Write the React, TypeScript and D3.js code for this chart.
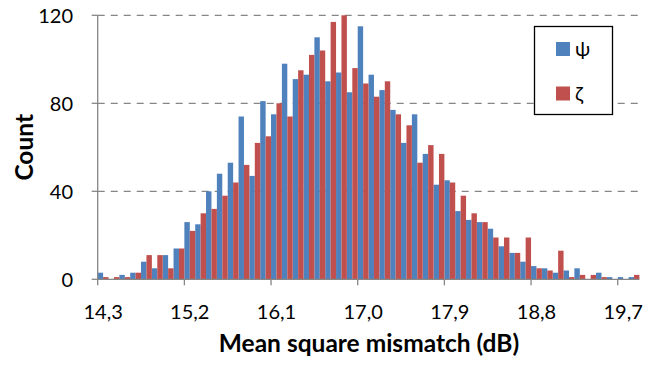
import React from "react";
import * as d3 from "d3";

const psiCounts = [3,0,2,3,8,5,11,14,26,25,40,48,53,74,47,81,75,98,91,93,110,90,94,85,115,93,86,77,62,75,57,43,45,31,27,26,23,15,12,8,6,5,3,4,5,0,3,1,1,1];
const zetaCounts = [1,1,1,3,11,11,5,14,22,30,32,38,44,52,62,65,80,74,95,102,104,117,120,96,89,83,90,75,70,53,61,57,44,38,30,26,19,19,12,19,5,4,13,1,2,2,1,0,0,2];
const categories = psiCounts.map((_, i) => i);
const tickLabels = ["14,3", "15,2", "16,1", "17,0", "17,9", "18,8", "19,7"];
const tickEvery = 8;
const yTicks = [0, 40, 80, 120];
const seriesNames = ["ψ", "ζ"];
const colors = ["#4F81BD", "#C0504D"];

const W = 662, H = 369;
const left = 97.7, right = 639.4, top = 15.3, bottom = 279.3;
const FONT = "Lato, sans-serif";

export default function App() {
  const x = d3.scaleBand<number>().domain(categories).range([left, right]).padding(0);
  const inner = d3.scaleBand<number>().domain([0, 1]).range([0, x.bandwidth()]).padding(0);
  const y = d3.scaleLinear().domain([0, 120]).range([bottom, top]);
  const series = [psiCounts, zetaCounts];
  const axisColor = "#868686";

  return (
    <svg width={W} height={H} style={{ position: "absolute", left: 0, top: 0, background: "#fff" }} fontFamily={FONT}>
      {yTicks.filter(t => t > 0).map(t => (
        <line key={"g" + t} x1={left} x2={right} y1={y(t)} y2={y(t)} stroke={axisColor} strokeWidth={1.3} strokeDasharray="7,6" />
      ))}
      {series.map((vals, s) =>
        vals.map((v, i) => (
          v > 0 ? <rect key={s + "-" + i} x={(x(i) as number) + (inner(s) as number)} y={y(v)} width={inner.bandwidth()} height={bottom - y(v)} fill={colors[s]} /> : null
        ))
      )}
      <line x1={left} x2={left} y1={top} y2={bottom} stroke={axisColor} strokeWidth={1.3} />
      {yTicks.map(t => (
        <g key={"yt" + t}>
          <line x1={left - 6} x2={left} y1={y(t)} y2={y(t)} stroke={axisColor} strokeWidth={1.3} />
          <text x={73} y={y(t)} dy="0.36em" textAnchor="end" fontSize={20} fill="#000">{t}</text>
        </g>
      ))}
      <line x1={left} x2={right} y1={bottom} y2={bottom} stroke={axisColor} strokeWidth={1.3} />
      {tickLabels.map((lab, k) => {
        const idx = k * tickEvery;
        const xs = x(idx) as number;
        return (
          <g key={"xt" + k}>
            <line x1={xs} x2={xs} y1={bottom} y2={bottom + 6} stroke={axisColor} strokeWidth={1.3} />
            <text x={xs + x.bandwidth() / 2} y={318.5} textAnchor="middle" fontSize={20} fill="#000">{lab}</text>
          </g>
        );
      })}
      <text x={369} y={352} textAnchor="middle" fontSize={24.5} fontWeight="bold" fill="#000">Mean square mismatch (dB)</text>
      <text transform={`translate(33,${(top + bottom) / 2}) rotate(-90)`} textAnchor="middle" fontSize={24.5} fontWeight="bold" fill="#000">Count</text>
      <rect x={534.5} y={26.5} width={78} height={88} fill="#fff" stroke="#000" strokeWidth={1.3} />
      {seriesNames.map((n, s) => (
        <g key={"lg" + s}>
          <rect x={556} y={42 + s * 44.5} width={14} height={14} fill={colors[s]} />
          <text x={575} y={49 + s * 44.5} dy="0.35em" fontSize={20} fill="#000">{n}</text>
        </g>
      ))}
    </svg>
  );
}
